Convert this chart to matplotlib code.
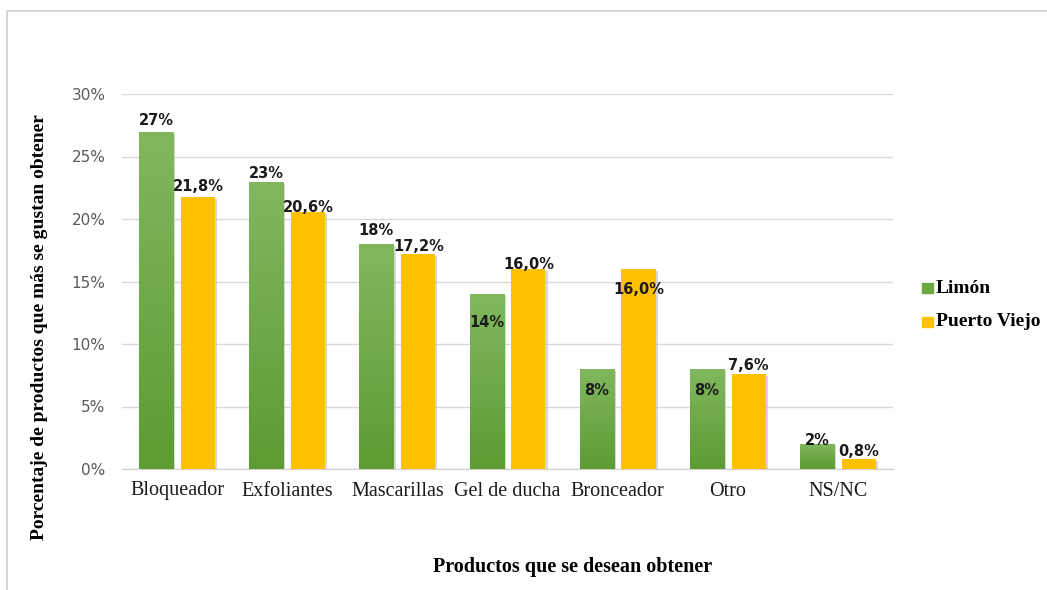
import numpy as np
import matplotlib
matplotlib.use("Agg")
import matplotlib.pyplot as plt
from matplotlib.patches import Rectangle
from matplotlib.colors import LinearSegmentedColormap
import matplotlib.patheffects as pe

categories = ["Bloqueador", "Exfoliantes", "Mascarillas", "Gel de ducha",
              "Bronceador", "Otro", "NS/NC"]
limon = [27, 23, 18, 14, 8, 8, 2]
puerto_viejo = [21.8, 20.6, 17.2, 16.0, 16.0, 7.6, 0.8]
limon_labels = ["27%", "23%", "18%", "14%", "8%", "8%", "2%"]
pv_labels = ["21,8%", "20,6%", "17,2%", "16,0%", "16,0%", "7,6%", "0,8%"]
yticks = [0, 5, 10, 15, 20, 25, 30]

GREEN_TOP = "#82b75f"
GREEN_BOT = "#5c9c32"
GREEN = "#6aaa40"
YELLOW = "#ffc000"

fig = plt.figure(figsize=(10.47, 5.9), dpi=100)
# outer frame of the chart area
fig.patches.append(Rectangle((7 / 1047, -0.1), 1.2, 1 - 11 / 590 + 0.1,
                             transform=fig.transFigure, fill=False,
                             edgecolor="#d0d0d0", linewidth=1.2))

ax = fig.add_axes([122 / 1047, (590 - 469) / 590, (893 - 122) / 1047, (469 - 94) / 590])
x = np.arange(len(categories))
w = 0.31
off = 0.19
shadow = [pe.SimplePatchShadow(offset=(1.5, -1.5), shadow_rgbFace="#b0b0b0", alpha=0.5), pe.Normal()]

g_bars = ax.bar(x - off, limon, width=w, color=GREEN, zorder=3, path_effects=shadow)
y_bars = ax.bar(x + off, puerto_viejo, width=w, color=YELLOW, zorder=3, path_effects=shadow)

# vertical gradient on the green bars
grad = np.linspace(0, 1, 256).reshape(-1, 1)
cmap = LinearSegmentedColormap.from_list("g", [GREEN_BOT, GREEN_TOP])
for b in g_bars:
    x0, y0, bw, bh = b.get_x(), b.get_y(), b.get_width(), b.get_height()
    im = ax.imshow(grad, cmap=cmap, aspect="auto", origin="lower",
                   extent=(x0, x0 + bw, y0, y0 + bh), zorder=4)
    im.set_clip_path(b)

ax.set_xlim(-0.5, len(categories) - 0.5)
ax.set_ylim(0, 30)
ax.set_yticks(yticks)
ax.set_yticklabels([f"{t}%" for t in yticks], color="#595959", fontsize=11)
ax.set_xticks(x)
ax.set_xticklabels(categories, family="Liberation Serif", fontsize=14.5, color="#1a1a1a")
ax.tick_params(axis="x", length=0, pad=9)
ax.tick_params(axis="y", length=0, pad=12)
ax.grid(axis="y", color="#d9d9d9", linewidth=1, zorder=0)
for s in ["top", "right", "left"]:
    ax.spines[s].set_visible(False)
ax.spines["bottom"].set_color("#d0d0d0")

lab_kw = dict(ha="center", va="center", fontsize=10.5, fontweight="bold",
              color="#1a1a1a", zorder=6)
# label centres (data units) per bar
limon_pos = [27.9, 23.6, 19.1, 11.7, 6.25, 6.25, 2.25]
pv_pos = [22.6, 20.9, 17.8, 16.4, 14.4, 8.3, 1.4]
for i in range(len(categories)):
    ax.text(x[i] - off, limon_pos[i], limon_labels[i], **lab_kw)
    ax.text(x[i] + off, pv_pos[i], pv_labels[i], **lab_kw)

fig.text(40 / 1047, 1 - 327 / 590, "Porcentaje de productos que más se gustan obtener",
         rotation=90, ha="center", va="center", family="Liberation Serif",
         fontweight="bold", fontsize=14)
fig.text(573 / 1047, 1 - 567 / 590, "Productos que se desean obtener",
         ha="center", va="center", family="Liberation Serif",
         fontweight="bold", fontsize=14.5)

# legend
for yy, col, name in [(288, GREEN, "Limón"), (322, YELLOW, "Puerto Viejo")]:
    fig.patches.append(Rectangle((922 / 1047, 1 - (yy + 5) / 590), 11 / 1047, 10 / 590,
                                 transform=fig.transFigure, color=col))
    fig.text(936 / 1047, 1 - yy / 590, name, ha="left", va="center",
             family="Liberation Serif", fontweight="bold", fontsize=14)

fig.savefig("out.png", dpi=100)
